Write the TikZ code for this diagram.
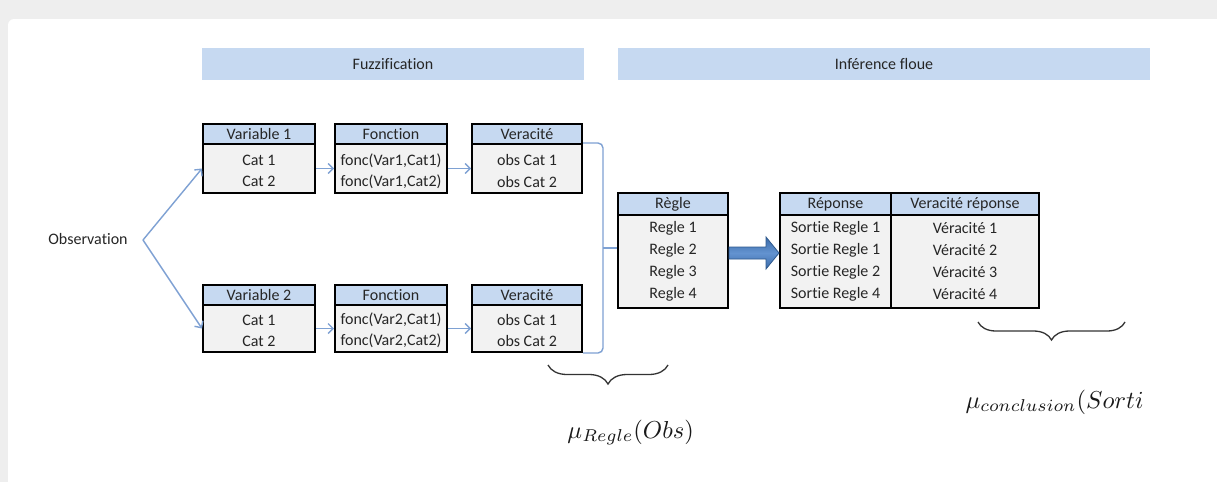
\documentclass[tikz,border=0pt]{standalone}
\usepackage{fontspec}
\setmainfont[Ligatures={NoCommon}]{Carlito}
\usetikzlibrary{arrows.meta,calc,decorations.pathreplacing}
\definecolor{hdr}{HTML}{C6D9F1}
\definecolor{bodyg}{HTML}{F2F2F2}
\definecolor{lnk}{HTML}{7EA1D3}
\definecolor{txt}{HTML}{262626}
\definecolor{arrdark}{HTML}{3A6AA8}
\definecolor{arrlight}{HTML}{6393D0}
\definecolor{arrline}{HTML}{2F5A8E}
\definecolor{framebg}{HTML}{EEEEEE}
\begin{document}
\begin{tikzpicture}[x=1pt,y=-1pt,
  every node/.style={font=\fontsize{16}{19}\selectfont, text=txt, inner sep=0pt},
  band/.style={fill=hdr, minimum height=32},
  hbox/.style={draw=black, line width=2pt, fill=hdr, minimum height=20},
  bbox/.style={draw=black, line width=2pt, fill=bodyg},
  link/.style={draw=lnk, line width=1.4pt, -{Straight Barb[length=5pt,width=10pt]}},
  bracketline/.style={draw=lnk, line width=1.4pt},
  curly/.style={draw=black!80, line width=1.3pt, decorate, decoration={brace, amplitude=#1}},
  mathlabel/.style={font=\normalsize, text=black!90, scale=2.45, anchor=base west},
  ]
\useasboundingbox (0,0) rectangle (1217,482);
% frame
\fill[framebg] (0,0) rectangle (1217,482);
\fill[white, rounded corners=6pt] (8,19) rectangle (1230,495);

% bands
\node[band, minimum width=382] (fuzz) at (393,64) {Fuzzification};
\node[band, minimum width=532] (inf) at (884,64) {Inférence floue};

% observation
\node (obs) at (88,239) {Observation};
\coordinate (obsout) at (143,240);

% top row
\node[bbox, minimum width=112, minimum height=49] (v1b) at (259,168.5) {};
\node[hbox, minimum width=112] (v1h) at (259,134) {Variable 1};
\node (v1r1) at (259,160.5) {Cat 1};
\node (v1r2) at (259,181.5) {Cat 2};

\node[bbox, minimum width=112, minimum height=49] (f1b) at (391,168.5) {};
\node[hbox, minimum width=112] (f1h) at (391,134) {Fonction};
\node (f1r1) at (391,160.5) {fonc(Var1,Cat1)};
\node (f1r2) at (391,181.5) {fonc(Var1,Cat2)};

\node[bbox, minimum width=110, minimum height=49] (ver1b) at (527,168.5) {};
\node[hbox, minimum width=110] (ver1h) at (527,134) {Veracité};
\node (ver1r1) at (527,160.5) {obs Cat 1};
\node (ver1r2) at (527,181.5) {obs Cat 2};

% bottom row
\node[bbox, minimum width=112, minimum height=47] (v2b) at (259,328.5) {};
\node[hbox, minimum width=112] (v2h) at (259,295) {Variable 2};
\node (v2r1) at (259,320) {Cat 1};
\node (v2r2) at (259,341) {Cat 2};

\node[bbox, minimum width=112, minimum height=47] (f2b) at (391,328.5) {};
\node[hbox, minimum width=112] (f2h) at (391,295) {Fonction};
\node (f2r1) at (391,320) {fonc(Var2,Cat1)};
\node (f2r2) at (391,341) {fonc(Var2,Cat2)};

\node[bbox, minimum width=110, minimum height=47] (ver2b) at (527,328.5) {};
\node[hbox, minimum width=110] (ver2h) at (527,295) {Veracité};
\node (ver2r1) at (527,320) {obs Cat 1};
\node (ver2r2) at (527,341) {obs Cat 2};

% regle
\node[bbox, minimum width=110, minimum height=92.5] (rgb) at (673,261.25) {};
\node[hbox, minimum width=110, minimum height=22] (rgh) at (673,204) {Règle};
\node (rg1) at (673,228) {Regle 1};
\node (rg2) at (673,250) {Regle 2};
\node (rg3) at (673,272) {Regle 3};
\node (rg4) at (673,294) {Regle 4};

% reponse
\node[bbox, minimum width=111, minimum height=92.5] (repb) at (835.5,261.25) {};
\node[hbox, minimum width=111, minimum height=22] (reph) at (835.5,204) {Réponse};
\node[bbox, minimum width=148, minimum height=92.5] (vrb) at (965,261.25) {};
\node[hbox, minimum width=148, minimum height=22] (vrh) at (965,204) {Veracité réponse};
\node (rp1) at (835.5,228) {Sortie Regle 1};
\node (rp2) at (835.5,250) {Sortie Regle 1};
\node (rp3) at (835.5,272) {Sortie Regle 2};
\node (rp4) at (835.5,294) {Sortie Regle 4};
\node (vr1) at (965,228) {Véracité 1};
\node (vr2) at (965,250) {Véracité 2};
\node (vr3) at (965,272) {Véracité 3};
\node (vr4) at (965,294) {Véracité 4};

% connectors
\draw[link] (obsout) -- (v1b.west);
\draw[link] (obsout) -- (v2b.west);
\draw[link] (v1b.east) -- (f1b.west);
\draw[link] (f1b.east) -- (ver1b.west);
\draw[link] (v2b.east) -- (f2b.west);
\draw[link] (f2b.east) -- (ver2b.west);

% bracket
\coordinate (brt) at ($(ver1b.north east)+(20,0)$);
\coordinate (brb) at ($(ver2b.south east)+(20,0)$);
\coordinate (brm) at ($(brt)!0.5!(brb)$);
\draw[bracketline, rounded corners=5pt] (ver1b.north east) -- (brt) -- (brb) -- (ver2b.south east);
\draw[bracketline] (brm) -- (brm -| rgb.west);

% big arrow
\coordinate (ay) at (0,253);
\coordinate (a0) at (rgb.east |- ay);
\coordinate (a1) at (repb.west |- ay);
\shade[top color=arrdark, bottom color=arrdark, middle color=arrlight, draw=arrline, line width=0.8pt]
  ($(a0)+(0,-6)$) -- ($(a0)+(37,-6)$) -- ($(a0)+(37,-16)$) -- (a1) --
  ($(a0)+(37,16)$) -- ($(a0)+(37,6)$) -- ($(a0)+(0,6)$) -- cycle;

% braces
\coordinate (b1r) at (668,365);
\coordinate (b1l) at (548,365);
\draw[curly=19pt] (b1r) -- (b1l);
\coordinate (b2r) at (1125,322);
\coordinate (b2l) at (978,322);
\draw[curly=18pt] (b2r) -- (b2l);

% labels
\node[mathlabel] (mu1) at (567,438) {$\mu_{Regle}(Obs)$};
\node[mathlabel] (mu2) at (965,408) {$\mu_{conclusion}(Sorti$};
\end{tikzpicture}
\end{document}
